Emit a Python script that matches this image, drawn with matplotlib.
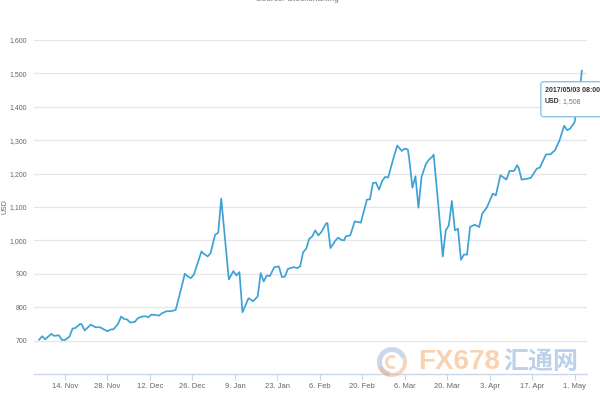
import matplotlib
matplotlib.use('Agg')
import matplotlib.pyplot as plt
import matplotlib.dates as mdates
import matplotlib.transforms as mtrans
from matplotlib.patches import FancyBboxPatch, Wedge
from matplotlib.ticker import FuncFormatter, FixedLocator
import pandas as pd

plt.rcParams['font.family'] = ['Liberation Sans', 'DejaVu Sans']

# bitcoin price, days counted from 14 Nov 2016
START = '2016-11-14'
days = [-8.5, -7.5, -6.5, -4.5, -3.5, -2, -1, 0, 1.5, 2.5,
        3.5, 5, 5.5, 6.5, 8.5, 10, 11.5, 14, 15, 16,
        17.5, 18.5, 19.5, 20.5, 21.5, 23, 24, 25, 26.5, 27.5,
        28.5, 29.5, 31, 32, 33.5, 35, 36.5, 38, 39.5, 40.5,
        41.5, 42.5, 45, 45.5, 47, 48, 49, 49.5, 50.5, 51.5,
        54, 55.5, 56.5, 57.5, 58.5, 60.5, 62, 63.5, 64.5, 65.5,
        66.5, 67.5, 69, 70.5, 71.5, 72.5, 73.5, 75.5, 76.5, 77.5,
        78.5, 79.5, 80.5, 81.5, 82.5, 83.5, 84.5, 86, 86.5, 87.5,
        89, 90, 91, 92, 92.5, 94, 95.5, 97.5, 99.5, 100.5,
        101.5, 102.5, 103.5, 104.5, 105.5, 106.5, 108, 109.5, 111, 112,
        113, 113.5, 114.5, 115.5, 116.5, 117.5, 119, 120, 121, 121.5,
        123, 124.5, 125.5, 126.5, 127.5, 128.5, 129.5, 130.5, 131.5, 132.5,
        133.5, 135, 136.5, 137.5, 139, 141, 142, 143.5, 145.5, 146.5,
        148, 149, 149.5, 150.5, 152.5, 153.5, 155.5, 156.5, 158.5, 160,
        161.5, 163, 164.5, 165.5, 166.5, 168, 169, 170, 170.3333]
usd = [703, 713, 704, 720, 714, 716, 702, 702, 712, 736,
       738, 750, 749, 730, 748, 740, 740, 728, 733, 734,
       750, 772, 765, 763, 754, 756, 767, 771, 773, 770,
       778, 777, 775, 782, 788, 788, 792, 845, 900, 892,
       887, 898, 967, 962, 952, 962, 1000, 1017, 1023, 1125,
       883, 908, 895, 905, 785, 827, 818, 832, 902, 877,
       895, 893, 920, 922, 890, 892, 915, 920, 917, 922,
       965, 975, 1005, 1012, 1030, 1015, 1025, 1050, 1052, 977,
       998, 1008, 1002, 1000, 1012, 1015, 1057, 1053, 1122, 1123,
       1172, 1173, 1152, 1177, 1190, 1188, 1238, 1284, 1268, 1275,
       1272, 1240, 1158, 1192, 1098, 1190, 1230, 1242, 1250, 1257,
       1110, 952, 1030, 1045, 1118, 1030, 1035, 942, 958, 957,
       1040, 1047, 1040, 1080, 1098, 1140, 1135, 1195, 1182, 1208,
       1208, 1225, 1218, 1182, 1185, 1187, 1215, 1218, 1257, 1258,
       1270, 1300, 1343, 1330, 1335, 1355, 1440, 1478, 1508]
yticks = [700, 800, 900, 1000, 1100, 1200, 1300, 1400, 1500, 1600]
xtick_dates = ['2016-11-14', '2016-11-28', '2016-12-12', '2016-12-26', '2017-01-09', '2017-01-23',
               '2017-02-06', '2017-02-20', '2017-03-06', '2017-03-20', '2017-04-03', '2017-04-17', '2017-05-01']
tip_title = '2017/05/03 08:00'
source = 'Source: Stockcharting'

dates = pd.Timestamp(START) + pd.to_timedelta(days, unit='D')
GRID = '#e6e6e6'; AXIS = '#ccd6eb'; LABEL = '#666666'; LINE = '#3ea2d6'

fig = plt.figure(figsize=(6, 4), dpi=100)
ax = fig.add_axes([34/600, 26/400, 553/600, 334/400])
ax.plot(dates, usd, color=LINE, lw=1.25, zorder=3)
ax.set_ylim(600, 1600)
ax.set_xlim(dates[0] - pd.Timedelta(days=1.7), dates[-1] + pd.Timedelta(days=1.7))
ax.yaxis.set_major_locator(FixedLocator(yticks))
ax.yaxis.set_major_formatter(FuncFormatter(lambda v, p: f'{int(v):,}'))
ax.grid(axis='y', color=GRID, lw=0.9)
ax.set_axisbelow(True)
ax.xaxis.set_major_locator(FixedLocator(mdates.date2num(pd.to_datetime(xtick_dates))))
ax.xaxis.set_major_formatter(FuncFormatter(lambda v, p: (lambda d: f'{d.day}. {d:%b}')(mdates.num2date(v))))
for s in ['top', 'right', 'left']: ax.spines[s].set_visible(False)
ax.spines['bottom'].set_color(AXIS); ax.spines['bottom'].set_linewidth(1)
ax.tick_params(axis='y', length=0, pad=5, labelsize=5, labelcolor=LABEL)
ax.tick_params(axis='x', length=4, width=0.8, color=AXIS, pad=2.5, labelsize=5.5, labelcolor=LABEL)
ax.set_ylabel('USD', fontsize=5, color=LABEL)
ax.yaxis.set_label_coords(-0.047, 0.5)

fig.text(0.495, 1.002, source, ha='center', va='center', fontsize=6, color='#777777')

# tooltip anchored at the last point
tr = fig.dpi_scale_trans + mtrans.ScaledTranslation(mdates.date2num(dates[-1]), usd[-1], ax.transData)
ax.add_patch(FancyBboxPatch((-0.41, -0.46), 0.8, 0.35, boxstyle='round,pad=0,rounding_size=0.03',
                            transform=tr, fc='white', ec='#8ec3e6', lw=1, clip_on=False, zorder=5))
ax.text(-0.37, -0.2, tip_title, transform=tr, fontsize=5, fontweight='bold', color='#333333', va='center', zorder=6)
t = ax.text(-0.37, -0.31, 'USD', transform=tr, fontsize=5, fontweight='bold', color='#333333', va='center', zorder=6)
ax.annotate(f': {usd[-1]:,}', xy=(1, 0.5), xycoords=t, va='center', fontsize=5, color='#777777', zorder=6)

# watermark
wtr = fig.dpi_scale_trans
fig.patches.append(Wedge((3.92, 0.38), 0.15, 20, 260, width=0.05, transform=wtr, fc='#9fb8dc', alpha=0.55, figure=fig))
fig.patches.append(Wedge((3.92, 0.38), 0.15, 200, 380, width=0.04, transform=wtr, fc='#f3b38a', alpha=0.55, figure=fig))
fig.patches.append(Wedge((3.92, 0.38), 0.07, 60, 300, width=0.03, transform=wtr, fc='#f3b38a', alpha=0.55, figure=fig))
fig.text(4.18/6, 0.38/4, 'FX678', ha='left', va='center', fontsize=20, fontweight='bold', color='#f7bf8e', alpha=0.7)
fig.text(5.03/6, 0.38/4, '汇通网', ha='left', va='center', fontsize=18, fontweight='bold',
         color='#a9c2e6', alpha=0.75, family=['Noto Sans CJK SC', 'DejaVu Sans'])

fig.savefig('out.png', dpi=100)
